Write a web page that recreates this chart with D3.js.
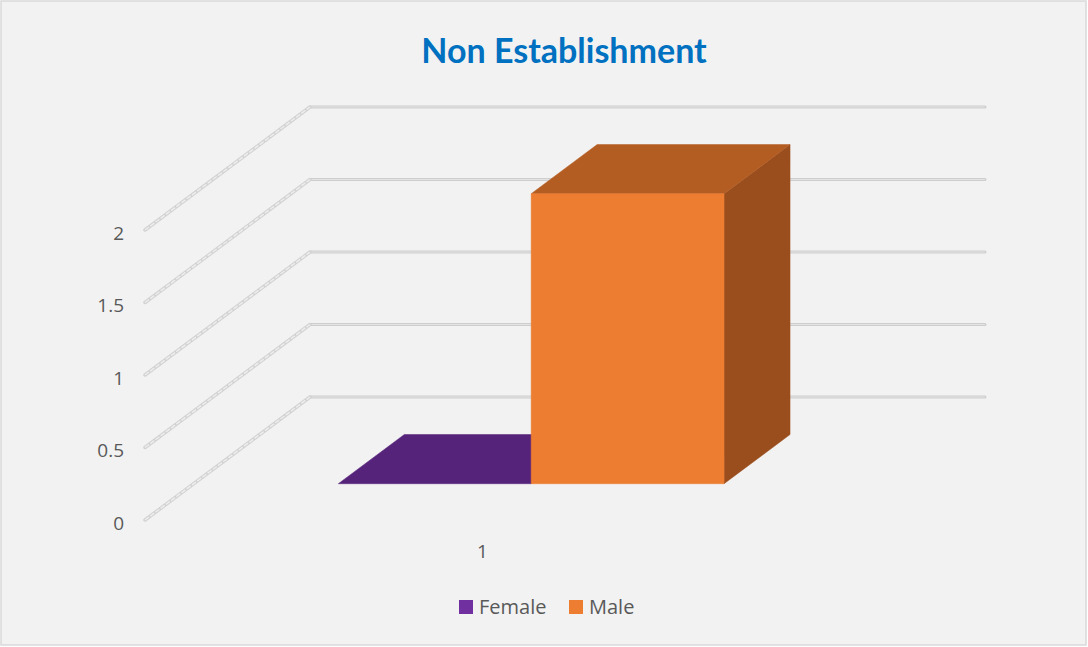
<!DOCTYPE html>
<html>
<head>
<meta charset="utf-8">
<script src="https://cdn.jsdelivr.net/npm/d3@7"></script>
<style>
  body { margin: 0; background: #fff; }
  text { font-family: "Open Sans", Lato, sans-serif; }
</style>
</head>
<body>
<div id="chart"></div>
<script>
// data
let categories = ["1"];
let seriesNames = ["Female", "Male"];
let seriesValues = [0, 2];
let tickValues = [0, 0.5, 1, 1.5, 2];
let seriesColors = ["#7030A0", "#ED7D31"];

let width = 1088;
let height = 647;

// 3d depth offset (front plane -> back wall)
let depthX = 165;
let depthY = 123;
let barZ0 = 0.295;
let barZ1 = 0.695;

let svg = d3.select("#chart").append("svg")
    .attr("width", width)
    .attr("height", height);

// background + border
svg.append("rect")
    .attr("x", 1).attr("y", 1)
    .attr("width", width - 3).attr("height", height - 3)
    .attr("fill", "#F2F2F2")
    .attr("stroke", "#D9D9D9")
    .attr("stroke-width", 1.5);

// scales on the front plane
let x = d3.scaleBand().domain(categories).range([145, 820]);
let xInner = d3.scaleBand().domain(seriesNames)
    .range([0, x.bandwidth()])
    .paddingInner(0)
    .paddingOuter(0.75);
let y = d3.scaleLinear().domain([0, 2]).range([520, 230]);

// project a front-plane point back to depth z (0..1)
function proj(px, v, z) {
    return [px + z * depthX, y(v) - z * depthY];
}

// back wall gridlines
let x0 = x.range()[0];
let x1 = x.range()[1];
svg.append("g").selectAll("line")
    .data(tickValues)
    .join("line")
    .attr("x1", d => proj(x0, d, 1)[0])
    .attr("y1", d => proj(x0, d, 1)[1])
    .attr("x2", d => proj(x1, d, 1)[0])
    .attr("y2", d => proj(x1, d, 1)[1])
    .attr("stroke", "#CDCDCD")
    .attr("stroke-width", 3)
    .attr("stroke-linecap", "round");
svg.append("g").selectAll("line")
    .data(tickValues)
    .join("line")
    .attr("x1", d => proj(x0, d, 1)[0])
    .attr("y1", d => proj(x0, d, 1)[1])
    .attr("x2", d => proj(x1, d, 1)[0])
    .attr("y2", d => proj(x1, d, 1)[1])
    .attr("stroke", "#E4E4E4")
    .attr("stroke-width", 1);

// side wall gridlines (diagonals)
let sideG = svg.append("g");
sideG.selectAll("line.o")
    .data(tickValues)
    .join("line")
    .attr("class", "o")
    .attr("x1", d => proj(x0, d, 0)[0])
    .attr("y1", d => proj(x0, d, 0)[1])
    .attr("x2", d => proj(x0, d, 1)[0])
    .attr("y2", d => proj(x0, d, 1)[1])
    .attr("stroke", "#D2D2D2")
    .attr("stroke-width", 3.5)
    .attr("stroke-linecap", "round");
sideG.selectAll("line.i")
    .data(tickValues)
    .join("line")
    .attr("class", "i")
    .attr("x1", d => proj(x0, d, 0)[0])
    .attr("y1", d => proj(x0, d, 0)[1])
    .attr("x2", d => proj(x0, d, 1)[0])
    .attr("y2", d => proj(x0, d, 1)[1])
    .attr("stroke", "#EDEDED")
    .attr("stroke-width", 1.5)
    .attr("stroke-dasharray", "5,1.5");

// bars
let shade = [
    {front: "#7030A0", top: "#56237A", side: "#4A1E6A"},
    {front: "#ED7D31", top: "#B45D22", side: "#9A4E1D"}
];
let line = d3.line();
seriesNames.forEach(function (s, i) {
    let v = seriesValues[i];
    let bx0 = x(categories[0]) + xInner(s);
    let bx1 = bx0 + xInner.bandwidth();
    let g = svg.append("g");
    let front = [proj(bx0, 0, barZ0), proj(bx1, 0, barZ0), proj(bx1, v, barZ0), proj(bx0, v, barZ0)];
    let top = [proj(bx0, v, barZ0), proj(bx1, v, barZ0), proj(bx1, v, barZ1), proj(bx0, v, barZ1)];
    let side = [proj(bx1, 0, barZ0), proj(bx1, 0, barZ1), proj(bx1, v, barZ1), proj(bx1, v, barZ0)];
    if (v > 0) {
        g.append("path").attr("d", line(side) + "Z").attr("fill", shade[i].side)
            .attr("stroke", shade[i].side).attr("stroke-width", 0.5);
    }
    g.append("path").attr("d", line(top) + "Z").attr("fill", shade[i].top)
        .attr("stroke", shade[i].top).attr("stroke-width", 0.5);
    if (v > 0) {
        g.append("path").attr("d", line(front) + "Z").attr("fill", shade[i].front)
            .attr("stroke", shade[i].front).attr("stroke-width", 0.5);
    }
});

// y axis labels (front plane)
svg.append("g").selectAll("text")
    .data(tickValues)
    .join("text")
    .attr("x", 124)
    .attr("y", d => y(d) + 3)
    .attr("dy", "0.35em")
    .attr("text-anchor", "end")
    .attr("fill", "#595959")
    .style("font-size", "19px")
    .text(d => d);

// category label
svg.append("g").selectAll("text")
    .data(categories)
    .join("text")
    .attr("x", d => x(d) + x.bandwidth() / 2)
    .attr("y", 551)
    .attr("dy", "0.35em")
    .attr("text-anchor", "middle")
    .attr("fill", "#595959")
    .style("font-size", "19px")
    .text(d => d);

// title
svg.append("text")
    .attr("x", 564)
    .attr("y", 63)
    .attr("text-anchor", "middle")
    .attr("fill", "#0070C0")
    .style("font-family", "Lato, sans-serif")
    .style("font-size", "34px")
    .style("font-weight", "bold")
    .text("Non Establishment");

// legend
let legendX = [459, 569];
let legend = svg.append("g").selectAll("g")
    .data(seriesNames)
    .join("g")
    .attr("transform", (d, i) => "translate(" + legendX[i] + ",600)");
legend.append("rect")
    .attr("width", 14).attr("height", 14)
    .attr("fill", (d, i) => seriesColors[i]);
legend.append("text")
    .attr("x", 20)
    .attr("y", 7)
    .attr("dy", "0.36em")
    .attr("fill", "#595959")
    .style("font-size", "20px")
    .text(d => d);
</script>
</body>
</html>
